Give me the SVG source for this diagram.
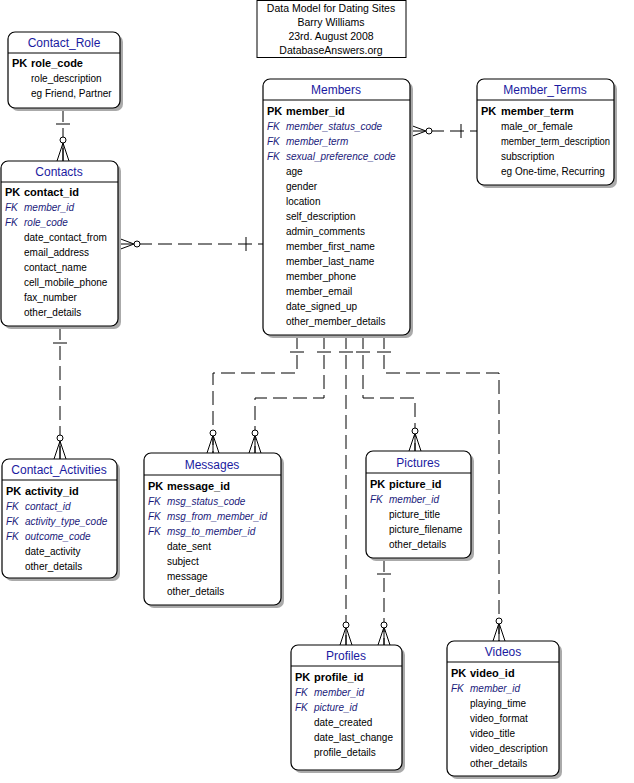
<svg xmlns="http://www.w3.org/2000/svg" width="634" height="783" viewBox="0 0 634 783">
<style>
text{font-family:"Liberation Sans",Arial,sans-serif;font-size:10px;fill:#000}
.t{font-size:12px;fill:#1a1aa0;text-anchor:middle}
.pk{font-weight:bold;font-size:11px}
.fk{font-style:italic;fill:#1a1a7a}
.b{fill:#fff;stroke:#000;stroke-width:1.2}
.s{fill:#aaa}
.c{fill:none;stroke:#000;stroke-width:1;stroke-dasharray:14,6}
.m{fill:none;stroke:#000;stroke-width:1}
.tt{text-anchor:middle;font-size:10.5px}
</style>
<rect x="257" y="0.5" width="149" height="57" fill="#fff" stroke="#000"/>
<text class="tt" x="331" y="12">Data Model for Dating Sites</text>
<text class="tt" x="331" y="26">Barry Williams</text>
<text class="tt" x="331" y="40">23rd. August 2008</text>
<text class="tt" x="331" y="54">DatabaseAnswers.org</text>

<g id="connectors">
<path class="c" d="M63 108V161"/><path class="m" d="M56 124H70M63 143l-6 18M63 143l6 18M63 143v18"/><circle cx="63" cy="140" r="3" fill="#fff" stroke="#000"/>
<path class="c" d="M118 244H263"/><path class="m" d="M246 237v14M134 244l-16-6M134 244l-16 6"/><circle cx="137" cy="244" r="3" fill="#fff" stroke="#000"/>
<path class="c" d="M410 131H477"/><path class="m" d="M461 124v14M426 131l-16-6M426 131l-16 6"/><circle cx="429" cy="131" r="3" fill="#fff" stroke="#000"/>
<path class="c" d="M60 326V459"/><path class="m" d="M53 343H67M60 441l-6 18M60 441l6 18M60 441v18"/><circle cx="60" cy="438" r="3" fill="#fff" stroke="#000"/>
<path class="c" d="M297 335V373H213V453"/><path class="m" d="M290 352H304M213 435l-6 18M213 435l6 18M213 435v18"/><circle cx="213" cy="433" r="3" fill="#fff" stroke="#000"/>
<path class="c" d="M324 335V398H255V453"/><path class="m" d="M317 352H331M255 435l-6 18M255 435l6 18M255 435v18"/><circle cx="255" cy="433" r="3" fill="#fff" stroke="#000"/>
<path class="c" d="M346 335V645"/><path class="m" d="M339 352H353M346 627l-6 18M346 627l6 18M346 627v18"/><circle cx="346" cy="625" r="3" fill="#fff" stroke="#000"/>
<path class="c" d="M363 335V398H415V451"/><path class="m" d="M356 352H370M415 433l-6 18M415 433l6 18M415 433v18"/><circle cx="415" cy="431" r="3" fill="#fff" stroke="#000"/>
<path class="c" d="M384 335V373H499V641"/><path class="m" d="M377 352H391M499 623l-6 18M499 623l6 18M499 623v18"/><circle cx="499" cy="621" r="3" fill="#fff" stroke="#000"/>
<path class="c" d="M384 558V645"/><path class="m" d="M377 574H391M384 627l-6 18M384 627l6 18M384 627v18"/><circle cx="384" cy="625" r="3" fill="#fff" stroke="#000"/>
</g>

<g id="Contact_Role">
<rect class="s" x="11" y="35" width="112" height="76" rx="7"/>
<rect class="b" x="8" y="32" width="112" height="76" rx="7"/><path class="m" d="M8 53H120"/>
<text class="t" x="64" y="47">Contact_Role</text>
<text class="pk" x="12" y="67">PK<tspan x="31">role_code</tspan></text>
<text x="31" y="82">role_description</text><text x="31" y="97">eg Friend, Partner</text>
</g>

<g id="Contacts">
<rect class="s" x="4" y="164" width="117" height="165" rx="7"/>
<rect class="b" x="1" y="161" width="117" height="165" rx="7"/><path class="m" d="M1 182H118"/>
<text class="t" x="59" y="176">Contacts</text>
<text class="pk" x="5" y="196">PK<tspan x="24">contact_id</tspan></text>
<text class="fk" x="5" y="211">FK<tspan x="24">member_id</tspan></text>
<text class="fk" x="5" y="226">FK<tspan x="24">role_code</tspan></text>
<text x="24" y="241">date_contact_from</text><text x="24" y="256">email_address</text><text x="24" y="271">contact_name</text><text x="24" y="286">cell_mobile_phone</text><text x="24" y="301">fax_number</text><text x="24" y="316">other_details</text>
</g>

<g id="Members">
<rect class="s" x="266" y="82" width="147" height="256" rx="7"/>
<rect class="b" x="263" y="79" width="147" height="256" rx="7"/><path class="m" d="M263 100H410"/>
<text class="t" x="336" y="94">Members</text>
<text class="pk" x="267" y="115">PK<tspan x="286">member_id</tspan></text>
<text class="fk" x="267" y="130">FK<tspan x="286">member_status_code</tspan></text>
<text class="fk" x="267" y="145">FK<tspan x="286">member_term</tspan></text>
<text class="fk" x="267" y="160">FK<tspan x="286">sexual_preference_code</tspan></text>
<text x="286" y="175">age</text><text x="286" y="190">gender</text><text x="286" y="205">location</text><text x="286" y="220">self_description</text><text x="286" y="235">admin_comments</text><text x="286" y="250">member_first_name</text><text x="286" y="265">member_last_name</text><text x="286" y="280">member_phone</text><text x="286" y="295">member_email</text><text x="286" y="310">date_signed_up</text><text x="286" y="325">other_member_details</text>
</g>

<g id="Member_Terms">
<rect class="s" x="480" y="82" width="137" height="106" rx="7"/>
<rect class="b" x="477" y="79" width="137" height="106" rx="7"/><path class="m" d="M477 100H614"/>
<text class="t" x="545" y="94">Member_Terms</text>
<text class="pk" x="481" y="115">PK<tspan x="501">member_term</tspan></text>
<text x="501" y="130">male_or_female</text><text x="501" y="145" textLength="109" lengthAdjust="spacingAndGlyphs">member_term_description</text><text x="501" y="160">subscription</text><text x="501" y="175">eg One-time, Recurring</text>
</g>

<g id="Contact_Activities">
<rect class="s" x="5" y="462" width="115" height="119" rx="7"/>
<rect class="b" x="2" y="459" width="115" height="119" rx="7"/><path class="m" d="M2 480H117"/>
<text class="t" x="59" y="474">Contact_Activities</text>
<text class="pk" x="6" y="495">PK<tspan x="25">activity_id</tspan></text>
<text class="fk" x="6" y="510">FK<tspan x="25">contact_id</tspan></text>
<text class="fk" x="6" y="525">FK<tspan x="25">activity_type_code</tspan></text>
<text class="fk" x="6" y="540">FK<tspan x="25">outcome_code</tspan></text>
<text x="25" y="555">date_activity</text><text x="25" y="570">other_details</text>
</g>

<g id="Messages">
<rect class="s" x="147" y="456" width="137" height="152" rx="7"/>
<rect class="b" x="144" y="453" width="137" height="152" rx="7"/><path class="m" d="M144 475H281"/>
<text class="t" x="212" y="469">Messages</text>
<text class="pk" x="148" y="490">PK<tspan x="167">message_id</tspan></text>
<text class="fk" x="148" y="505">FK<tspan x="167">msg_status_code</tspan></text>
<text class="fk" x="148" y="520">FK<tspan x="167">msg_from_member_id</tspan></text>
<text class="fk" x="148" y="535">FK<tspan x="167">msg_to_member_id</tspan></text>
<text x="167" y="550">date_sent</text><text x="167" y="565">subject</text><text x="167" y="580">message</text><text x="167" y="595">other_details</text>
</g>

<g id="Pictures">
<rect class="s" x="369" y="454" width="105" height="107" rx="7"/>
<rect class="b" x="366" y="451" width="105" height="107" rx="7"/><path class="m" d="M366 473H471"/>
<text class="t" x="418" y="467">Pictures</text>
<text class="pk" x="370" y="488">PK<tspan x="389">picture_id</tspan></text>
<text class="fk" x="370" y="503">FK<tspan x="389">member_id</tspan></text>
<text x="389" y="518">picture_title</text><text x="389" y="533">picture_filename</text><text x="389" y="548">other_details</text>
</g>

<g id="Profiles">
<rect class="s" x="294" y="648" width="111" height="125" rx="7"/>
<rect class="b" x="291" y="645" width="111" height="125" rx="7"/><path class="m" d="M291 666H402"/>
<text class="t" x="346" y="660">Profiles</text>
<text class="pk" x="295" y="681">PK<tspan x="314">profile_id</tspan></text>
<text class="fk" x="295" y="696">FK<tspan x="314">member_id</tspan></text>
<text class="fk" x="295" y="711">FK<tspan x="314">picture_id</tspan></text>
<text x="314" y="726">date_created</text><text x="314" y="741">date_last_change</text><text x="314" y="756">profile_details</text>
</g>

<g id="Videos">
<rect class="s" x="450" y="644" width="112" height="135" rx="7"/>
<rect class="b" x="447" y="641" width="112" height="135" rx="7"/><path class="m" d="M447 662H559"/>
<text class="t" x="503" y="656">Videos</text>
<text class="pk" x="451" y="677">PK<tspan x="470">video_id</tspan></text>
<text class="fk" x="451" y="692">FK<tspan x="470">member_id</tspan></text>
<text x="470" y="707">playing_time</text><text x="470" y="722">video_format</text><text x="470" y="737">video_title</text><text x="470" y="752">video_description</text><text x="470" y="767">other_details</text>
</g>
</svg>
